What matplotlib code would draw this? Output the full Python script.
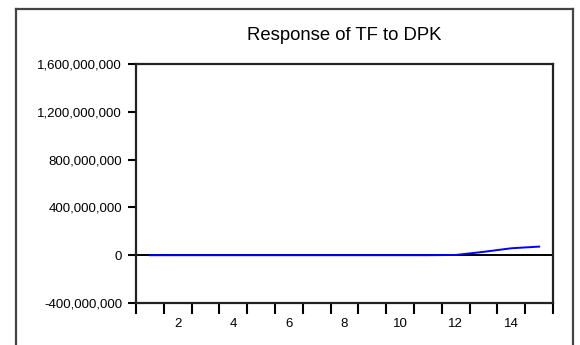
import numpy as np
import matplotlib
matplotlib.use("Agg")
from matplotlib import pyplot as plt
from matplotlib.lines import Line2D
from matplotlib.ticker import FuncFormatter

plt.rcParams['font.family'] = ['Liberation Sans', 'DejaVu Sans']

# impulse response of TF to a shock in DPK, periods 1..15
periods = np.arange(1, 16)
response = [0, 0, 0, 0, 0, 0, 0, 0, 0, 0, 0, 2e6, 28e6, 58e6, 72e6]
y_ticks = [-400e6, 0, 400e6, 800e6, 1200e6, 1600e6]
x_labels = [2, 4, 6, 8, 10, 12, 14]

fig = plt.figure(figsize=(5.8, 3.45), dpi=100)
ax = fig.add_axes([0.2345, 0.1217, 0.7190, 0.6928])

ax.axhline(0, color='black', lw=1.4, zorder=2)
ax.plot(periods, response, color='#0000ff', lw=1.4, zorder=3)

ax.set_xlim(0.5, 15.5)
ax.set_ylim(y_ticks[0], y_ticks[-1])

# labels at even periods, tick marks between periods
ax.set_xticks(x_labels)
ax.set_xticks(np.arange(0.5, 16, 1.0), minor=True)
ax.tick_params(axis='x', which='major', length=0, pad=11, labelsize=9.5)
ax.tick_params(axis='x', which='minor', length=8, width=1.5, direction='out')
ax.set_yticks(y_ticks)
ax.yaxis.set_major_formatter(FuncFormatter(lambda v, p: f"{v:,.0f}"))
ax.tick_params(axis='y', length=6, width=1.5, direction='out', pad=4, labelsize=9.5)

for s in ax.spines.values():
    s.set_linewidth(1.6)
    s.set_color('#222222')

ax.set_title("Response of TF to DPK", fontsize=13.3, pad=17)

# outer border (open at bottom)
fx0, fx1, fy = 16 / 580, 573 / 580, 1 - 9 / 345
for xs, ys in [([fx0, fx0], [0, fy]), ([fx0, fx1], [fy, fy]), ([fx1, fx1], [fy, 0])]:
    fig.add_artist(Line2D(xs, ys, transform=fig.transFigure, color='#444444', lw=1.6))

fig.savefig("out.png", dpi=100)
